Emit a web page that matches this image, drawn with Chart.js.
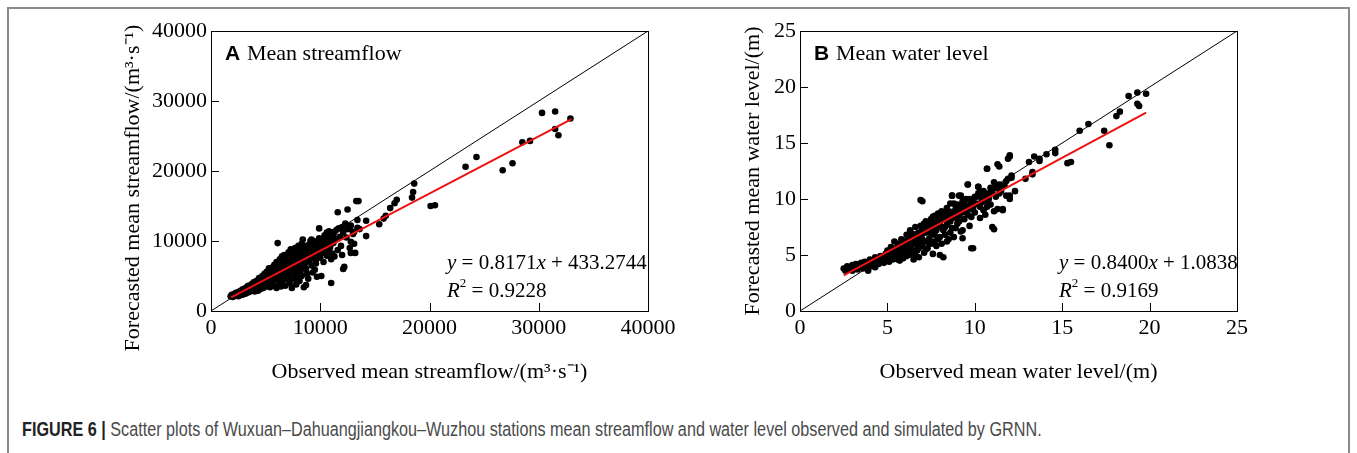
<!DOCTYPE html>
<html>
<head>
<meta charset="utf-8">
<script src="https://cdn.jsdelivr.net/npm/chart.js@4.4.1/dist/chart.umd.min.js"></script>
<style>
  html, body { margin: 0; padding: 0; background: #fff; }
  body { width: 1357px; height: 453px; position: relative; overflow: hidden; }
  #frame { position: absolute; left: 7px; top: 7px; width: 1343px; height: 470px; border: 2px solid #8a8a8a; box-sizing: border-box; }
  canvas { position: absolute; }
  #cA { left: 100px; top: 0px; }
  #cB { left: 680px; top: 0px; }
  #caption { position: absolute; left: 22px; top: 418px; font-family: 'Liberation Sans', Arial, sans-serif; font-size: 20px; color: #4a4a4a; white-space: nowrap; transform: scaleX(0.81); transform-origin: 0 50%; }
  #caption b { color: #222; }
</style>
</head>
<body>
<div id="frame"></div>
<canvas id="cA" width="580" height="400"></canvas>
<canvas id="cB" width="600" height="400"></canvas>
<div id="caption"><b>FIGURE 6 |</b> Scatter plots of Wuxuan–Dahuangjiangkou–Wuzhou stations mean streamflow and water level observed and simulated by GRNN.</div>
<script>
// ---------------- DATA ----------------
// Panel A: observed vs forecasted mean streamflow (m3/s), [observed, forecasted]
const streamflowPairs = [
  [1800,2100],[1900,2300],[2000,2000],[2100,2400],[2200,2200],[2300,2600],[2400,2300],[2500,2100],[2500,2700],[2600,2500],
  [2700,2900],[2800,2300],[2800,2700],[2900,3100],[3000,2600],[3000,2400],[3100,2900],[3200,3300],[3200,2500],[3300,2800],
  [3400,3100],[3400,3600],[3500,2700],[3600,3300],[3600,2900],[3700,3800],[3800,3000],[3800,3500],[3900,4100],[4000,3200],
  [4000,2800],[4100,3700],[4200,4300],[4200,3300],[4300,2900],[4400,3900],[4400,4700],[4500,3500],[4500,3100],[4600,4200],
  [4700,5000],[4700,3700],[4800,3300],[4800,4500],[4900,5300],[5000,3900],[5000,3500],[5000,4800],[5100,5600],[5200,4200],
  [5200,3700],[5300,5100],[5300,6100],[5400,4500],[5400,3400],[5500,5400],[5500,3900],[5600,6200],[5600,4800],[5700,5800],
  [5700,4200],[5800,3600],[5800,6600],[5900,5100],[5900,4500],[6000,6000],[6000,7000],[6000,3300],[6100,9700],[6100,5400],
  [6200,4800],[6200,6500],[6300,7400],[6300,4000],[6400,5800],[6400,3500],[6500,6800],[6500,7800],[6600,5100],[6600,4400],
  [6700,6200],[6700,8000],[6800,7200],[6800,3600],[6900,5500],[6900,4700],[7000,7600],[7000,6600],[7100,8400],[7100,5100],
  [7200,4000],[7200,7000],[7300,6000],[7300,8800],[7400,7800],[7400,3300],[7500,5400],[7500,6800],[7600,8200],[7600,4600],
  [7700,9000],[7700,7400],[7800,6300],[7800,3800],[7900,8600],[7900,5700],[8000,7800],[8000,9300],[8100,7000],[8100,4300],
  [8200,8400],[8200,6200],[8300,9600],[8300,5000],[8400,10200],[8400,7400],[8500,8800],[8500,3400],[8600,6800],[8600,8000],
  [8700,3700],[8700,9300],[8800,7600],[8800,5300],[8900,8500],[8900,4600],[9000,9000],[9000,7100],[9100,8200],[9100,10000],
  [9200,10200],[9200,6500],[9300,8800],[9300,5500],[9400,9400],[9400,7700],[9500,8600],[9500,5900],[9600,9800],[9600,7300],
  [9700,8900],[9700,4900],[9800,9300],[9800,8000],[9900,11800],[9900,10400],[10000,9600],[10000,7600],[10100,8800],[10100,5000],
  [10200,10000],[10200,8300],[10300,9300],[10300,7000],[10400,10800],[10400,8700],[10500,9600],[10600,7900],[10600,11200],[10700,8600],
  [10800,10400],[10800,11400],[10900,9100],[11000,4000],[11000,7400],[11000,10700],[11100,8200],[11200,11000],[11200,9700],[11300,7800],
  [11400,10300],[11500,11600],[11600,14100],[11600,8700],[11800,10600],[11900,9300],[12000,12000],[12000,8000],[12100,11200],[12200,6300],
  [12100,6000],[12300,12500],[12400,10500],[12500,14500],[12500,11700],[12700,9000],[12800,9900],[12800,12200],[13000,11000],[13100,9600],
  [13200,8300],[12800,8300],[13300,15700],[13500,15700],[13400,13000],[13400,11900],[13600,11700],[13100,11300],[14200,12900],[14200,10700],
  [15400,12400],[15800,13200],[16000,13600],[16400,14700],[16800,15400],[17000,15900],[18400,16200],[18500,17000],[18600,18200],[20100,15000],
  [20500,15100],[23300,20600],[24300,22000],[26700,20100],[27600,21100],[28500,24100],[29200,24300],[30300,28300],[31500,28500],[31500,26000],
  [31800,25100],[32900,27500],[12700,11700],
  [2000,2200],[2300,2400],[2600,2700],[2900,2900],[3200,3000],[3500,3200],[3800,3400],[3900,3700],[4100,3900],[4300,3600],
  [4400,4100],[4600,4400],[4700,4000],[4900,4200],[5100,4600],[5100,5000],[5300,4400],[5400,5000],[5600,5200],[5700,5000],
  [5800,5500],[6000,5300],[6100,5900],[6200,5600],[6300,6100],[6500,5900],[6500,6300],[6600,6700],[6800,6400],[6900,6900],
  [7000,5800],[7100,6400],[7200,7600],[7300,7200],[7500,7400],[7600,6600],[7700,7000],[7800,7800],[8000,7200],[8000,6800],
  [8200,7700],[8300,8100],[8500,7500],[8600,8500],[8800,8100],[8900,7800],[9000,8400],[9200,8000],[9300,8500],[9500,8300],
  [9600,8800],[9800,8600],[10000,8900],[10200,9100],[10400,9300],[10700,9500],[11000,9800],
  [2200,2500],[2400,2600],[2700,2500],[3100,3200],[3300,3400],[3500,3500],[3700,3200],[3900,3300],[4100,4200],[4200,3600],
  [4400,3500],[4600,3800],[4800,4100],[4800,5000],[5000,4300],[5200,4800],[5400,5500],[5500,4300],[5700,6100],[5800,4700],
  [6000,4900],[6200,6900],[6300,5300],[6400,6600],[6600,5800],[6700,7100],[6900,6000],[7000,7300],[7100,4500],[7300,6500],
  [7400,8300],[7500,5900],[7700,8000],[7800,4900],[8000,8600],[8200,5600],[8400,8800],[8600,9100],[8700,6000],[9000,9500],
  [9100,7500],[9400,10000],[9600,6800],[9900,8400],[10100,9900],[10500,10300],[10800,8900],[11100,10000],[11300,11300],[11700,11800]
];
// Panel B: observed vs forecasted mean water level (m), [observed, forecasted]
const waterLevelPairs = [
  [2.5,3.8],[2.6,3.6],[2.7,4.0],[2.8,3.7],[2.9,3.9],[3.0,4.1],[3.0,3.6],[3.1,3.8],[3.2,4.2],[3.3,3.7],
  [3.3,4.0],[3.4,3.9],[3.5,4.3],[3.6,3.8],[3.6,4.1],[3.7,4.4],[3.8,3.9],[3.9,4.2],[3.9,3.6],[4.0,4.6],
  [4.1,4.0],[4.2,4.3],[4.3,4.8],[4.3,3.9],[4.4,4.5],[4.5,4.2],[4.6,4.9],[4.6,4.4],[4.7,4.7],[4.8,4.3],
  [4.9,5.1],[4.9,4.6],[5.0,4.8],[5.0,5.4],[5.1,4.4],[5.2,5.0],[5.2,5.7],[5.3,4.6],[5.4,5.2],[5.4,6.2],
  [5.5,4.7],[5.5,5.6],[5.6,5.0],[5.6,6.0],[5.7,4.5],[5.7,5.4],[5.8,6.4],[5.8,5.0],[5.9,5.8],[5.9,4.7],
  [6.0,6.2],[6.0,5.3],[6.1,6.8],[6.1,4.9],[6.2,5.7],[6.2,6.5],[6.3,5.1],[6.3,7.2],[6.4,6.0],[6.4,5.5],
  [6.5,6.8],[6.5,4.6],[6.6,6.3],[6.6,7.5],[6.7,5.4],[6.7,5.9],[6.8,7.0],[6.8,4.8],[6.9,6.6],[6.9,7.6],
  [7.0,5.8],[7.0,6.9],[7.0,9.8],[7.1,7.4],[7.1,5.2],[7.2,6.2],[7.2,8.0],[7.3,7.2],[7.3,5.6],[7.4,7.8],
  [7.4,6.5],[7.5,8.2],[7.5,6.0],[7.6,7.4],[7.6,5.1],[7.7,8.5],[7.7,6.8],[7.8,7.9],[7.8,5.8],[7.9,8.7],
  [7.9,6.4],[8.0,8.1],[8.0,7.6],[8.1,8.9],[8.1,6.0],[8.2,7.2],[8.2,4.8],[8.3,8.5],[8.3,6.8],[8.4,9.2],
  [8.4,7.7],[8.5,8.0],[8.5,6.4],[8.6,9.6],[8.6,8.6],[8.7,7.4],[8.7,10.3],[8.8,8.9],[8.8,6.6],[8.9,8.3],
  [8.9,9.4],[9.0,7.8],[9.0,9.0],[9.1,10.3],[9.1,8.5],[9.2,9.3],[9.2,7.1],[9.3,8.8],[9.3,6.5],[9.4,9.6],
  [9.4,8.2],[9.5,9.1],[9.5,10.0],[9.6,8.6],[9.6,11.3],[9.7,9.4],[9.7,7.6],[9.8,9.8],[9.8,8.4],[9.9,9.2],
  [9.9,5.6],[10.0,10.2],[10.0,8.8],[10.1,9.6],[10.2,10.5],[10.2,11.1],[10.3,9.3],[10.3,8.3],[10.4,10.0],[10.5,10.7],
  [10.5,9.0],[10.6,9.8],[10.6,8.6],[10.7,12.7],[10.8,10.4],[10.9,11.0],[10.9,9.5],[11.0,10.6],[11.1,11.5],[11.1,8.9],
  [11.2,10.2],[11.3,11.0],[11.4,12.9],[11.5,10.7],[11.6,9.0],[11.7,11.2],[11.8,10.3],[11.9,11.8],[12.0,10.0],[12.0,13.8],
  [12.1,11.9],
  [4.0,4.3],[4.5,4.6],[5.0,5.1],[5.3,5.4],[5.6,5.6],[5.9,6.0],[6.0,5.8],[6.2,6.1],[6.4,6.4],[6.6,6.6],
  [6.8,6.3],[7.0,7.2],[7.2,7.0],[7.4,7.1],[7.6,7.8],[7.8,7.2],[8.0,7.9],[8.2,8.2],[8.4,8.4],[8.6,8.0],
  [8.8,8.5],[9.0,8.6],[9.2,8.9],[9.4,9.1],[9.6,9.4],[9.8,9.1],[10.0,9.5],[10.4,9.7],[10.8,10.0],
  [3.2,3.9],[3.5,4.0],[3.8,4.2],[4.1,4.4],[4.4,4.2],[4.7,4.4],[4.8,4.9],[5.1,5.2],[5.3,4.9],[5.5,5.1],
  [5.6,4.6],[5.8,5.3],[5.9,6.3],[6.1,5.5],[6.2,5.0],[6.3,6.3],[6.4,6.9],[6.5,5.3],[6.6,5.0],[6.7,6.9],
  [6.8,5.6],[6.9,6.1],[7.0,6.4],[7.1,7.8],[7.2,5.5],[7.3,7.7],[7.4,6.0],[7.5,7.0],[7.6,8.4],[7.7,6.2],
  [7.8,8.4],[7.9,7.5],[8.0,6.6],[8.1,8.4],[8.2,8.8],[8.3,7.5],[8.4,6.2],[8.5,8.9],[8.6,7.0],[8.7,8.5],
  [8.8,9.6],[8.9,7.4],[9.0,9.5],[9.1,8.0],[9.3,9.8],[9.5,8.9],[9.7,10.0],[9.9,9.7],[10.1,10.2],[10.3,10.6],
  [10.5,10.3],[10.7,9.3],[10.9,10.6],[11.2,11.0],[11.4,10.5],[11.6,11.2],
  [19.8,19.4],[19.3,19.5],[18.8,19.2],[19.3,18.5],[19.4,18.3],[18.3,17.8],[18.1,17.4],[17.7,14.8],[17.4,16.1],[16.5,16.7],
  [16.0,16.1],[15.5,13.3],[15.3,13.2],[14.6,14.4],[14.6,14.1],[14.1,14.0],[13.7,13.6],[13.4,13.8],[13.7,13.4],[13.1,13.3],
  [13.3,12.4],[13.3,12.2],[12.9,11.8],[12.3,10.7],[12.1,12.1],[12.0,13.9],[11.9,13.6],[11.3,13.1],[10.7,12.7],[11.8,11.6],
  [12.0,10.3],[11.4,11.3],[11.1,7.3],[11.0,7.5],[11.6,9.1],[11.3,9.1],[9.8,5.6],[9.6,11.3],[10.2,11.1],[8.0,5.0],
  [6.9,9.9],[8.7,10.3],[9.2,10.3],[9.3,9.3],[9.3,7.2],[8.0,7.6]
];
const streamflowTicks = [0, 10000, 20000, 30000, 40000];
const waterLevelTicks = [0, 5, 10, 15, 20, 25];
// fitted regression lines (from the equations) and their observed range
const fitA = { slope: 0.8171, intercept: 433.2744, xFrom: 1850, xTo: 33000, r2: '0.9228', slopeTxt: '0.8171', interceptTxt: '433.2744' };
const fitB = { slope: 0.8400, intercept: 1.0838, xFrom: 2.5, xTo: 19.8, r2: '0.9169', slopeTxt: '0.8400', interceptTxt: '1.0838' };

// ---------------- RENDERING ----------------
const SERIF = "'Liberation Serif','Times New Roman',serif";
const SANS = "'Liberation Sans',Arial,sans-serif";

function panelPlugin(letter, title, fit, eqDx, yTitle) {
  return {
    id: 'panel' + letter,
    afterDraw(chart) {
      const ctx = chart.ctx;
      const a = chart.chartArea;
      const xs = chart.scales.x, ys = chart.scales.y;
      ctx.save();
      // frame
      ctx.strokeStyle = '#000';
      ctx.lineWidth = 1;
      ctx.strokeRect(Math.round(a.left) + 0.5, Math.round(a.top) + 0.5, Math.round(a.right - a.left), Math.round(a.bottom - a.top));
      // inward ticks
      xs.ticks.forEach((t, i) => {
        if (i === 0 || i === xs.ticks.length - 1) return;
        const px = Math.round(xs.getPixelForValue(t.value)) + 0.5;
        ctx.beginPath(); ctx.moveTo(px, a.bottom); ctx.lineTo(px, a.bottom - 8); ctx.stroke();
      });
      ys.ticks.forEach((t, i) => {
        if (i === 0 || i === ys.ticks.length - 1) return;
        const py = Math.round(ys.getPixelForValue(t.value)) + 0.5;
        ctx.beginPath(); ctx.moveTo(a.left, py); ctx.lineTo(a.left + 8, py); ctx.stroke();
      });
      ctx.fillStyle = '#000';
      // custom-placed y-axis title (panel A sits a bit lower than the axis centre)
      if (yTitle) {
        ctx.save();
        ctx.translate(ys.left + 17, yTitle.cy);
        ctx.rotate(-Math.PI / 2);
        ctx.font = '22px ' + SERIF;
        ctx.textAlign = 'center';
        ctx.textBaseline = 'middle';
        ctx.fillText(yTitle.text, 0, 0);
        ctx.restore();
      }
      // panel title
      ctx.textBaseline = 'middle';
      ctx.font = 'bold 21px ' + SANS;
      ctx.fillText(letter, a.left + 14, a.top + 23);
      ctx.font = '22px ' + SERIF;
      ctx.fillText(title, a.left + 36, a.top + 23);
      // equation
      let x = a.left + eqDx;
      let y = a.top + 232;
      const seg = (txt, italic, size, dy) => {
        ctx.font = (italic ? 'italic ' : '') + (size || 21) + 'px ' + SERIF;
        ctx.fillText(txt, x, y + (dy || 0));
        x += ctx.measureText(txt).width;
      };
      seg('y', true); seg(' = ' + fit.slopeTxt); seg('x', true); seg(' + ' + fit.interceptTxt);
      x = a.left + eqDx; y = a.top + 260;
      seg('R', true); seg('2', false, 13, -7); seg(' = ' + fit.r2);
      ctx.restore();
    }
  };
}

function makeChart(id, pairs, ticks, max, fit, xTitle, yTitle, pad, yWidth, xHeight, letter, title, eqDx, customY) {
  const font = { family: SERIF, size: 22 };
  const scaleBase = (axisTitle, show) => ({
    type: 'linear', min: 0, max: max,
    grid: { display: false, drawTicks: false },
    border: { display: false },
    ticks: { font: font, color: '#000', padding: 4, autoSkip: false, maxRotation: 0, callback: v => String(v) },
    title: { display: show, text: axisTitle, font: font, color: '#000', padding: { top: 4, bottom: 4 } },
    afterBuildTicks: s => { s.ticks = ticks.map(v => ({ value: v })); }
  });
  const xScale = Object.assign(scaleBase(xTitle, true), { position: 'bottom', afterFit: s => { s.height = xHeight; } });
  const yScale = Object.assign(scaleBase(yTitle, !customY), { position: 'left', afterFit: s => { s.width = yWidth; } });
  return new Chart(document.getElementById(id), {
    type: 'scatter',
    data: {
      datasets: [
        { label: 'fit', type: 'line', order: 0,
          data: [{ x: fit.xFrom, y: fit.slope * fit.xFrom + fit.intercept }, { x: fit.xTo, y: fit.slope * fit.xTo + fit.intercept }],
          borderColor: '#ee1111', borderWidth: 2, pointRadius: 0, fill: false },
        { label: 'points', order: 1,
          data: pairs.map(p => ({ x: p[0], y: p[1] })),
          backgroundColor: '#000', borderWidth: 0, pointRadius: 3.3, pointHoverRadius: 3.3 },
        { label: '1:1', type: 'line', order: 2,
          data: [{ x: 0, y: 0 }, { x: max, y: max }],
          borderColor: '#000', borderWidth: 1, pointRadius: 0, fill: false }
      ]
    },
    options: {
      responsive: false, animation: false,
      layout: { padding: pad },
      plugins: { legend: { display: false }, tooltip: { enabled: false } },
      scales: { x: xScale, y: yScale }
    },
    plugins: [panelPlugin(letter, title, fit, eqDx, customY ? { text: yTitle, cy: customY } : null)]
  });
}

makeChart('cA', streamflowPairs, streamflowTicks, 40000, fitA,
  'Observed mean streamflow/(m³·s⁻¹)', 'Forecasted mean streamflow/(m³·s⁻¹)',
  { left: 16, right: 32, top: 31, bottom: 11 }, 95, 78, 'A', 'Mean streamflow', 236, 188);
makeChart('cB', waterLevelPairs, waterLevelTicks, 25, fitB,
  'Observed mean water level/(m)', 'Forecasted mean water level/(m)',
  { left: 56, right: 43, top: 31, bottom: 11 }, 64, 78, 'B', 'Mean water level', 259, null);
</script>
</body>
</html>
